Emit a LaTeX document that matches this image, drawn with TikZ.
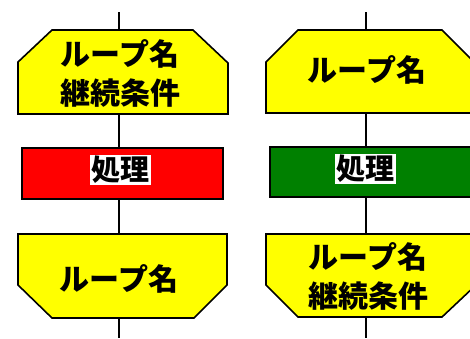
\documentclass[tikz,border=0pt]{standalone}
\usepackage{fontspec}
\newfontfamily\jp{Noto Sans CJK JP}
\definecolor{ylw}{RGB}{255,255,0}
\definecolor{rd}{RGB}{255,0,0}
\definecolor{grn}{RGB}{0,128,0}
\begin{document}
\begin{tikzpicture}[x=1pt,y=-1pt,
  shp/.style={draw=black,line width=1.6pt,line join=miter},
  con/.style={draw=black,line width=1.6pt},
  txt/.style={font=\jp\bfseries\fontsize{30}{39}\selectfont,align=center,inner sep=0pt},
  lbl/.style={fill=white,font=\jp\bfseries\fontsize{29}{30}\selectfont,inner sep=1.5pt}]
\useasboundingbox (0,0) rectangle (470,338);
\begin{scope}
\clip (0,0) rectangle (470,338);
% left column
\coordinate (L0) at (119,12);
\coordinate (L1t) at (119,30);
\coordinate (L1b) at (119,114);
\coordinate (L2t) at (119,148);
\coordinate (L2b) at (119,199);
\coordinate (L3t) at (119,234);
\coordinate (L3b) at (119,318);
\coordinate (L4) at (119,338);
\filldraw[shp,fill=ylw] (52,30) -- (193,30) -- (228,63) -- (228,114) -- (18,114) -- (18,62) -- cycle;
\filldraw[shp,fill=rd] (22,148) rectangle (223,199);
\filldraw[shp,fill=ylw] (18,234) -- (227,234) -- (227,285) -- (194,318) -- (52,318) -- (18,285) -- cycle;
\node[txt] (lt) at (120,73) {ループ名\\継続条件};
\node[lbl] (lp) at (120,170) {処理};
\node[txt] (lb) at (119,279) {ループ名};
\draw[con] (L0) -- (L1t);
\draw[con] (L1b) -- (L2t);
\draw[con] (L2b) -- (L3t);
\draw[con] (L3b) -- (L4);
% right column
\coordinate (R0) at (366,12);
\coordinate (R1t) at (366,30);
\coordinate (R1b) at (366,113);
\coordinate (R2t) at (366,147);
\coordinate (R2b) at (366,197);
\coordinate (R3t) at (366,234);
\coordinate (R3b) at (366,317);
\coordinate (R4) at (366,338);
\filldraw[shp,fill=ylw] (298,30) -- (442,30) -- (474,62) -- (474,113) -- (266,113) -- (266,62) -- cycle;
\filldraw[shp,fill=grn] (270,147) rectangle (476,197);
\filldraw[shp,fill=ylw] (266,234) -- (476,234) -- (476,285) -- (442,317) -- (298,317) -- (266,285) -- cycle;
\node[txt] (rt) at (367,70) {ループ名};
\node[lbl] (rp) at (365,169) {処理};
\node[txt] (rb) at (368,276) {ループ名\\継続条件};
\draw[con] (R0) -- (R1t);
\draw[con] (R1b) -- (R2t);
\draw[con] (R2b) -- (R3t);
\draw[con] (R3b) -- (R4);
\end{scope}
\end{tikzpicture}
\end{document}
